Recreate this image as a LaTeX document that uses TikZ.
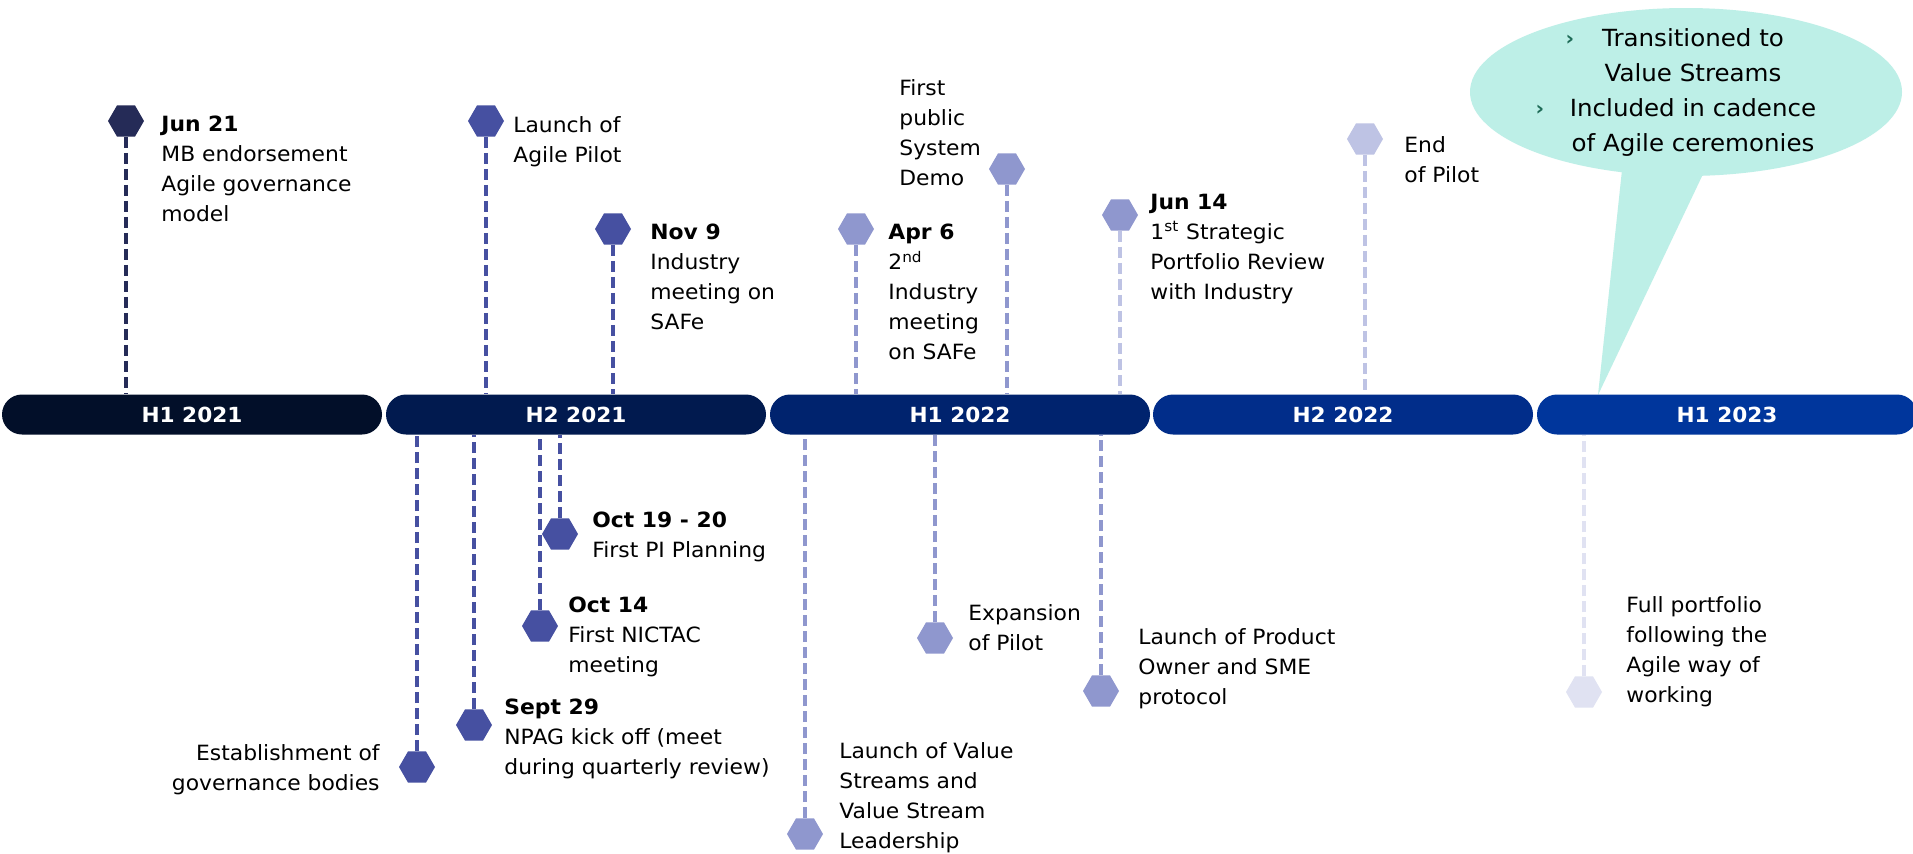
\documentclass[tikz,border=0pt]{standalone}
\usepackage{fontspec}
\setmainfont[FakeStretch=1.04]{DejaVu Sans}
\usepackage{tikz}
\usetikzlibrary{positioning, shapes.geometric}
\definecolor{barA}{HTML}{020F29}
\definecolor{barB}{HTML}{011A4F}
\definecolor{barC}{HTML}{00236E}
\definecolor{barD}{HTML}{012D8A}
\definecolor{barE}{HTML}{00369C}
\definecolor{evA}{HTML}{252B57}
\definecolor{evB}{HTML}{4650A1}
\definecolor{evC}{HTML}{8F97CE}
\definecolor{evD}{HTML}{BEC3E4}
\definecolor{evE}{HTML}{E0E2F2}
\definecolor{bubble}{HTML}{BDEFE7}
\definecolor{bulletgreen}{HTML}{1E6B57}
\tikzset{
    hexa/.style={regular polygon,regular polygon sides=6,minimum size=18pt,inner sep=0pt,draw=none},
    bar/.style={rectangle,rounded corners=10pt,minimum width=190pt,minimum height=20pt,inner sep=0pt,text=white,font=\bfseries\fontsize{10.4}{12}\selectfont},
    evtext/.style={align=left,inner sep=0pt,anchor=north west,font=\fontsize{10.5}{15}\selectfont},
    dline/.style={line width=2pt,dash pattern=on 5.5pt off 2.5pt},
    calltext/.style={align=center,inner sep=0pt,anchor=north,font=\fontsize{11.8}{17.5}\selectfont},
    arrowmark/.style={inner sep=0pt,text=bulletgreen,font=\bfseries\fontsize{10}{10}\selectfont},
}

\begin{document}
\begin{tikzpicture}[x=0.5pt,y=-0.5pt]
	\path[use as bounding box, fill=white] (0,0) rectangle (1913,853);

	\fill[bubble] (1686,92) ellipse [x radius=216, y radius=84];
	\fill[bubble] (1622,170) -- (1598,395) -- (1704,172) -- cycle;
	\node[arrowmark] (b1) at (1570,40) {›};
	\node[arrowmark] (b2) at (1540,110) {›};
	\node[calltext] (ct1) at (1693,28) {Transitioned to\\Value Streams};
	\node[calltext] (ct2) at (1693,98) {Included in cadence\\of Agile ceremonies};

	\node[bar, fill=barA] (h121) at (192,414.5) {H1 2021};
	\node[bar, fill=barB] (h221) at (576,414.5) {H2 2021};
	\node[bar, fill=barC] (h122) at (960,414.5) {H1 2022};
	\node[bar, fill=barD] (h222) at (1343,414.5) {H2 2022};
	\node[bar, fill=barE] (h123) at (1727,414.5) {H1 2023};

	\node[hexa, fill=evA] (jun21) at (126,121) {};
	\node[hexa, fill=evB] (pilot) at (486,121) {};
	\node[hexa, fill=evB] (nov9) at (613,229) {};
	\node[hexa, fill=evC] (apr6) at (856,229) {};
	\node[hexa, fill=evC] (demo) at (1007,169) {};
	\node[hexa, fill=evC] (jun14) at (1120,215) {};
	\node[hexa, fill=evD] (endpilot) at (1365,139) {};
	\node[hexa, fill=evB] (govbody) at (417,767) {};
	\node[hexa, fill=evB] (sept29) at (474,725) {};
	\node[hexa, fill=evB] (oct14) at (540,626) {};
	\node[hexa, fill=evB] (oct19) at (560,534) {};
	\node[hexa, fill=evC] (vstream) at (805,834) {};
	\node[hexa, fill=evC] (expand) at (935,638) {};
	\node[hexa, fill=evC] (prodown) at (1101,691) {};
	\node[hexa, fill=evE] (fullport) at (1584,692) {};

	\draw[dline, evA] (jun21) -- (jun21 |- h121.north);
	\draw[dline, evB] (pilot) -- (pilot |- h221.north);
	\draw[dline, evB] (nov9) -- (nov9 |- h221.north);
	\draw[dline, evC] (apr6) -- (apr6 |- h122.north);
	\draw[dline, evC] (demo) -- (demo |- h122.north);
	\draw[dline, evD] (jun14) -- (jun14 |- h122.north);
	\draw[dline, evD] (endpilot) -- (endpilot |- h222.north);
	\draw[dline, evB] (govbody) -- (govbody |- h221.south);
	\draw[dline, evB] (sept29) -- (sept29 |- h221.south);
	\draw[dline, evB] (oct14) -- (oct14 |- h221.south);
	\draw[dline, evB] (oct19) -- (oct19 |- h221.south);
	\draw[dline, evC] (vstream) -- (vstream |- h122.south);
	\draw[dline, evC] (expand) -- (expand |- h122.south);
	\draw[dline, evC] (prodown) -- (prodown |- h122.south);
	\draw[dline, evE] (fullport) -- (fullport |- h123.south);

	\node[evtext] (jun21t) at (161,116) {\textbf{Jun 21}\\MB endorsement\\Agile governance\\model};
	\node[evtext] (pilott) at (513,116) {Launch of\\Agile Pilot};
	\node[evtext] (nov9t) at (650,224) {\textbf{Nov 9}\\Industry\\meeting on\\SAFe};
	\node[evtext] (apr6t) at (888,224) {\textbf{Apr 6}\\2\textsuperscript{nd}\\Industry\\meeting\\on SAFe};
	\node[evtext] (demot) at (899,79) {First\\public\\System\\Demo};
	\node[evtext] (jun14t) at (1150,194) {\textbf{Jun 14}\\1\textsuperscript{st} Strategic\\Portfolio Review\\with Industry};
	\node[evtext] (endpilott) at (1404,136) {End\\of Pilot};
	\node[evtext] (oct19t) at (592,512) {\textbf{Oct 19 - 20}\\First PI Planning};
	\node[evtext] (oct14t) at (568,597) {\textbf{Oct 14}\\First NICTAC\\meeting};
	\node[evtext] (sept29t) at (504,699) {\textbf{Sept 29}\\NPAG kick off (meet\\during quarterly review)};
	\node[evtext, align=right, anchor=north east] (govbodyt) at (380,744) {Establishment of\\governance bodies};
	\node[evtext] (vstreamt) at (839,742) {Launch of Value\\Streams and\\Value Stream\\Leadership};
	\node[evtext] (expandt) at (968,604) {Expansion\\of Pilot};
	\node[evtext] (prodownt) at (1138,628) {Launch of Product\\Owner and SME\\protocol};
	\node[evtext] (fullportt) at (1626,596) {Full portfolio\\following the\\Agile way of\\working};
\end{tikzpicture}
\end{document}
